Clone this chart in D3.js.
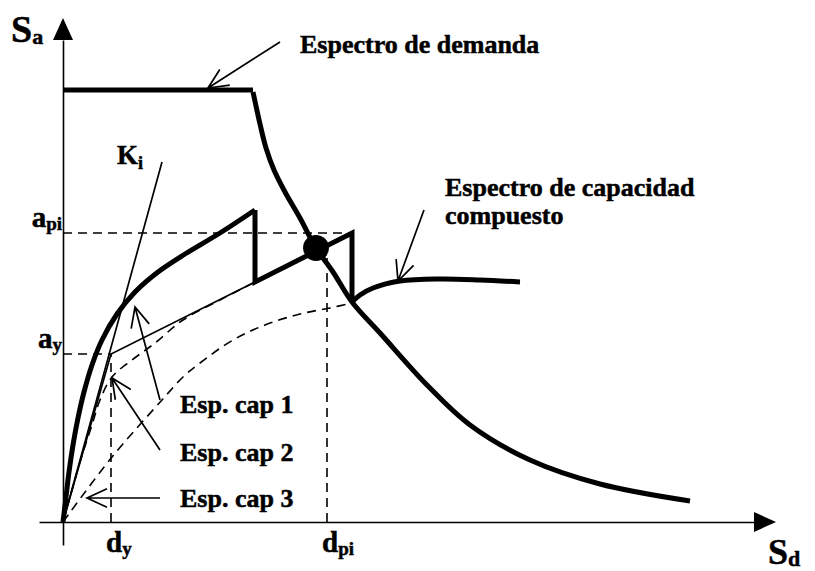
<!DOCTYPE html>
<html><head><meta charset="utf-8">
<script src="https://cdn.jsdelivr.net/npm/d3@7"></script>
<style>body{margin:0;background:#fff}svg{display:block}</style>
</head><body>
<script>
// ---- data (schematic units: Sd horizontal, Sa vertical) ----
const demandPlateau = [[0,432],[190,432]];
const demandCurve = [[190,430],[193,416],[197,398],[203,374],[211,352],[222,330],[237,304],[253,274],[270,250],[289,220],[317,189],[364,137],[407,97],[467,62],[537,38],[627,21]];
const compositeRise = [[0,0],[3,25],[6,50],[10,77],[15,104],[21,130],[29,157],[39,182],[54,208],[72,230],[95,250],[122,268],[157,289],[192,312]];
const compositeSteps = [[192,312],[192,240],[289,289],[289,220]];
const compositeTail = [[289,220],[297,227],[310,234],[337,241],[377,243],[417,242],[457,240]];
const espCap1 = [[0,0],[48,168],[192,240]];
const espCap2 = [[0,0],[17,60],[29,97],[37,122],[49,145],[69,162],[92,179],[120,202],[157,222],[192,240]];
const espCap3 = [[0,0],[49,65],[99,122],[120,145],[137,159],[170,182],[202,197],[237,208],[267,214],[289,219]];
const kiLine = [[0,0],[99,360]];
const dy = 48, ay = 168, dpi = 264, api = 289;
const perfPoint = [253,274];
const yAxisExtent = [-23,482], xAxisExtent = [-24,691];
const xTickLabels = [{v:dy, main:"d", sub:"y"},{v:dpi, main:"d", sub:"pi"}];
const yTickLabels = [{v:ay, main:"a", sub:"y"},{v:api, main:"a", sub:"pi"}];
const annotations = [
  {text:"Espectro de demanda", at:[237,469], tip:[145,434], tail:[217,480]},
  {text:"Espectro de capacidad", at:[382,326], tip:[335,241], tail:[361,312]},
  {text:"compuesto", at:[382,298]},
  {text:"Esp. cap 1", at:[117,109], tip:[72,215], tail:[97,122]},
  {text:"Esp. cap 2", at:[117,61], tip:[49,144], tail:[97,72]},
  {text:"Esp. cap 3", at:[117,15], tip:[24,24], tail:[97,24]}
];

const W=815,H=571;
const FONT='"Liberation Serif","Times New Roman",serif';
const svg=d3.select("body").append("svg").attr("width",W).attr("height",H)
  .style("font-family",FONT).style("font-weight","bold");
const x=d3.scaleLinear().domain([0,700]).range([63,763]);
const y=d3.scaleLinear().domain([0,500]).range([522,22]);
const line=d3.line().x(d=>x(d[0])).y(d=>y(d[1]));
const smooth=d3.line().x(d=>x(d[0])).y(d=>y(d[1])).curve(d3.curveCatmullRom.alpha(0.5));

// axes (domain lines only)
const yAx=d3.scaleLinear().domain(yAxisExtent).range([y(yAxisExtent[0]),y(yAxisExtent[1])]);
const xAx=d3.scaleLinear().domain(xAxisExtent).range([x(xAxisExtent[0]),x(xAxisExtent[1])]);
svg.append("g").attr("transform",`translate(${x(0)},0)`).call(d3.axisLeft(yAx).tickValues([]).tickSizeOuter(0));
svg.append("g").attr("transform",`translate(0,${y(0)})`).call(d3.axisBottom(xAx).tickValues([]).tickSizeOuter(0));
svg.selectAll(".domain").attr("stroke","#000").attr("stroke-width",1.6);
const yt=y(yAxisExtent[1]);
svg.append("path").attr("d",`M${x(0)},${yt-22}L${x(0)-10},${yt}L${x(0)+10},${yt}Z`).attr("fill","#000");
const xt=x(xAxisExtent[1]);
svg.append("path").attr("d",`M${xt+22},${y(0)}L${xt},${y(0)-10}L${xt},${y(0)+10}Z`).attr("fill","#000");

// dashed guides
const dash="9,6";
const guides=[
  [[0,api],[dpi+25,api]],
  [[dpi,0],[dpi,perfPoint[1]-4]],
  [[0,ay],[dy,ay]],
  [[dy,0],[dy,ay]]
];
guides.forEach(g=>svg.append("path").attr("d",line(g)).attr("fill","none").attr("stroke","#000").attr("stroke-width",1.6).attr("stroke-dasharray",dash));

// thin capacity spectra
svg.append("path").attr("d",line(espCap1)).attr("fill","none").attr("stroke","#000").attr("stroke-width",1.7);
svg.append("path").attr("d",line(kiLine)).attr("fill","none").attr("stroke","#000").attr("stroke-width",1.7);
svg.append("path").attr("d",smooth(espCap2)).attr("fill","none").attr("stroke","#000").attr("stroke-width",1.6).attr("stroke-dasharray",dash);
svg.append("path").attr("d",smooth(espCap3)).attr("fill","none").attr("stroke","#000").attr("stroke-width",1.6).attr("stroke-dasharray",dash);

// thick curves
const thick=(d,gen)=>svg.append("path").attr("d",gen(d)).attr("fill","none").attr("stroke","#000").attr("stroke-width",5).attr("stroke-linejoin","round");
thick(demandPlateau,line);
thick(demandCurve,smooth);
thick(compositeRise,smooth);
thick(compositeSteps,line).attr("stroke-linejoin","miter");
thick(compositeTail,smooth);

// performance point
svg.append("circle").attr("cx",x(perfPoint[0])).attr("cy",y(perfPoint[1])).attr("r",13).attr("fill","#000");

// annotations with V arrows
function vArrow(tip,tail){
  const tx=x(tip[0]),ty=y(tip[1]),ex=x(tail[0]),ey=y(tail[1]);
  const L=Math.hypot(ex-tx,ey-ty),ux=(ex-tx)/L,uy=(ey-ty)/L;
  const len=22,a=25*Math.PI/180;
  const w=s=>[tx+len*(ux*Math.cos(s*a)-uy*Math.sin(s*a)),ty+len*(ux*Math.sin(s*a)+uy*Math.cos(s*a))];
  const w1=w(1),w2=w(-1);
  svg.append("path").attr("d",`M${ex},${ey}L${tx},${ty}M${w1[0]},${w1[1]}L${tx},${ty}L${w2[0]},${w2[1]}`)
    .attr("fill","none").attr("stroke","#000").attr("stroke-width",1.7);
}
const textStroke=t=>t.attr("stroke","#000").attr("stroke-width",0.5);
annotations.forEach(a=>{
  textStroke(svg.append("text").attr("x",x(a.at[0])).attr("y",y(a.at[1])).attr("font-size",26).text(a.text));
  if(a.tip) vArrow(a.tip,a.tail);
});

// subscripted labels
function subLabel(px,py,main,sub,size,subSize,anchor,dySub){
  const t=svg.append("text").attr("x",px).attr("y",py).attr("font-size",size).attr("text-anchor",anchor||"start");
  t.append("tspan").text(main);
  t.append("tspan").attr("font-size",subSize).attr("dy",dySub).text(sub);
  return textStroke(t);
}
subLabel(11,42,"S","a",38,22,"start",2);
subLabel(768,564,"S","d",36,22,"start",2);
subLabel(x(54),y(358),"K","i",27,18,"start",5);
yTickLabels.forEach(t=>subLabel(x(0)-1,y(t.v)-6,t.main,t.sub,29,19,"end",3));
xTickLabels.forEach(t=>subLabel(x(t.v)-5,552,t.main,t.sub,29,19,"start",3));
</script>
</body></html>
